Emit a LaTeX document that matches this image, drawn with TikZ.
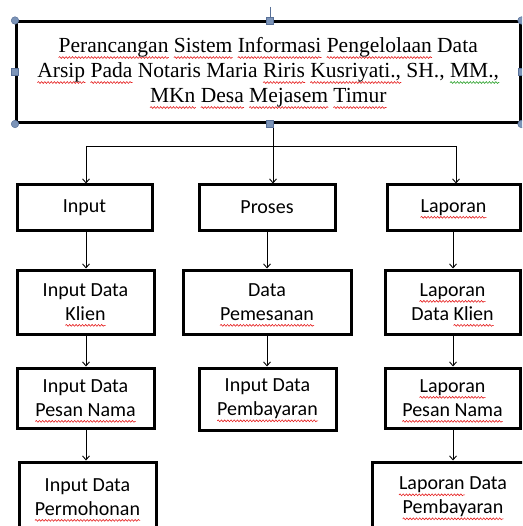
\documentclass[tikz,border=0pt]{standalone}
\usepackage{fontspec}
\usetikzlibrary{arrows.meta,decorations.pathmorphing}
\setmainfont{Liberation Serif}
\newfontfamily\calib{Carlito}
\definecolor{hdl}{RGB}{124,148,184}
\definecolor{hdlline}{RGB}{88,112,152}
\definecolor{sqgreen}{RGB}{40,160,40}
\definecolor{sqred}{RGB}{230,30,30}
\newsavebox\wbox
\newlength\wlen
\newcommand\wavy[2]{\sbox\wbox{#2}\setlength\wlen{\wd\wbox}%
  \rlap{\tikz[overlay,x=1pt,y=1pt]\draw[#1,line width=0.6pt,line cap=round,decorate,
    decoration={snake,amplitude=0.9pt,segment length=3.2pt}] (0pt,-5pt) -- (\wlen,-5pt);}%
  \usebox\wbox}
\newcommand\rw[1]{\wavy{sqred}{#1}}
\newcommand\gw[1]{\wavy{sqgreen}{#1}}
\begin{document}
\begin{tikzpicture}[x=1pt,y=-1pt,
  box/.style={draw=black,line width=3pt,fill=white,rectangle,inner sep=0pt,align=center,
    font=\calib\fontsize{20}{24}\selectfont},
  titlebox/.style={draw=black,line width=3pt,fill=white,rectangle,inner sep=0pt,align=center,
    font=\fontsize{21.5}{25}\selectfont},
  arr/.style={line width=0.9pt,-{Straight Barb[length=4pt,width=7pt,line width=0.9pt]}},
  conn/.style={line width=0.9pt},
  hcirc/.style={circle,fill=hdl,draw=hdlline,line width=0.5pt,minimum size=7.5pt,inner sep=0pt},
  hsq/.style={rectangle,fill=hdl,draw=hdlline,line width=0.5pt,minimum size=7pt,inner sep=0pt}]
\useasboundingbox (0,0) rectangle (522,526);
\clip (0,0) rectangle (522,526);

% title
\node[titlebox,minimum width=503.5pt,minimum height=100.5pt] (title) at (268.25,72.25)
  {\rw{Perancangan} \rw{Sistem} \rw{Informasi} \rw{Pengelolaan} Data\\
   \rw{Arsip} \rw{Pada} Notaris Maria \rw{Riris} \rw{Kusriyati.,} SH., \gw{MM.,}\\
   \rw{MKn} \rw{Desa} \rw{Mejasem} \rw{Timur}};

% level 1
\node[box,minimum width=135pt,minimum height=45pt] (input) at (84.5,207.5) {Input};
\node[box,minimum width=136pt,minimum height=45pt] (proses) at (267,207.5) {Proses};
\node[box,minimum width=133pt,minimum height=45pt] (laporan) at (453.5,207.5) {\rw{Laporan}};

% level 2
\node[box,minimum width=137pt,minimum height=64pt] (klien) at (85.5,302) {Input Data\\\rw{Klien}};
\node[box,minimum width=168pt,minimum height=64pt] (pemesanan) at (267,302) {Data\\\rw{Pemesanan}};
\node[box,minimum width=135pt,minimum height=64pt] (lapklien) at (452.5,302) {\rw{Laporan}\\Data \rw{Klien}};

% level 3
\node[box,minimum width=137pt,minimum height=60pt] (pesannama) at (85.5,398) {Input Data\\\rw{Pesan Nama}};
\node[box,minimum width=137pt,minimum height=62pt] (pembayaran) at (267.5,399) {Input Data\\\rw{Pembayaran}};
\node[box,minimum width=135pt,minimum height=60pt] (lappesan) at (452.5,398) {\rw{Laporan}\\\rw{Pesan Nama}};

% level 4
\node[box,minimum width=137pt,minimum height=70pt] (permohonan) at (87.5,497) {Input Data\\\rw{Permohonan}};
\node[box,minimum width=162pt,minimum height=70pt] (lappembayaran) at (453,497) {\rw{Laporan} Data\\\rw{Pembayaran}};

% column coordinates
\coordinate (c1) at (86,146);
\coordinate (c2) at (273,146);
\coordinate (c3) at (456,146);
\coordinate (k1) at (86,0);
\coordinate (k2) at (267,0);
\coordinate (k3) at (453,0);

% connectors
\draw[arr] (title.south -| c2) -- (proses.north -| c2);
\draw[conn] (c1) -- (c3);
\draw[arr] (c1) -- (input.north -| c1);
\draw[arr] (c3) -- (laporan.north -| c3);

\draw[arr] (input.south -| k1) -- (klien.north -| k1);
\draw[arr] (klien.south -| k1) -- (pesannama.north -| k1);
\draw[arr] (pesannama.south -| k1) -- (permohonan.north -| k1);

\draw[arr] (proses.south -| k2) -- (pemesanan.north -| k2);
\draw[arr] (pemesanan.south -| k2) -- (pembayaran.north -| k2);

\draw[arr] (laporan.south -| k3) -- (lapklien.north -| k3);
\draw[arr] (lapklien.south -| k3) -- (lappesan.north -| k3);
\draw[arr] (lappesan.south -| k3) -- (lappembayaran.north -| k3);

% selection handles of the title box
\coordinate (rot) at (270,7);
\draw[hdlline,line width=0.9pt] (rot) -- (title.north -| rot);
\node[hcirc] (h1) at (title.north west) {};
\node[hcirc] (h2) at (title.north east) {};
\node[hcirc] (h3) at (title.south west) {};
\node[hcirc] (h4) at (title.south east) {};
\node[hsq] (h5) at (title.north -| rot) {};
\node[hsq] (h6) at (title.south -| rot) {};
\node[hsq] (h7) at (title.west) {};
\node[hsq] (h8) at (title.east) {};
\end{tikzpicture}
\end{document}
